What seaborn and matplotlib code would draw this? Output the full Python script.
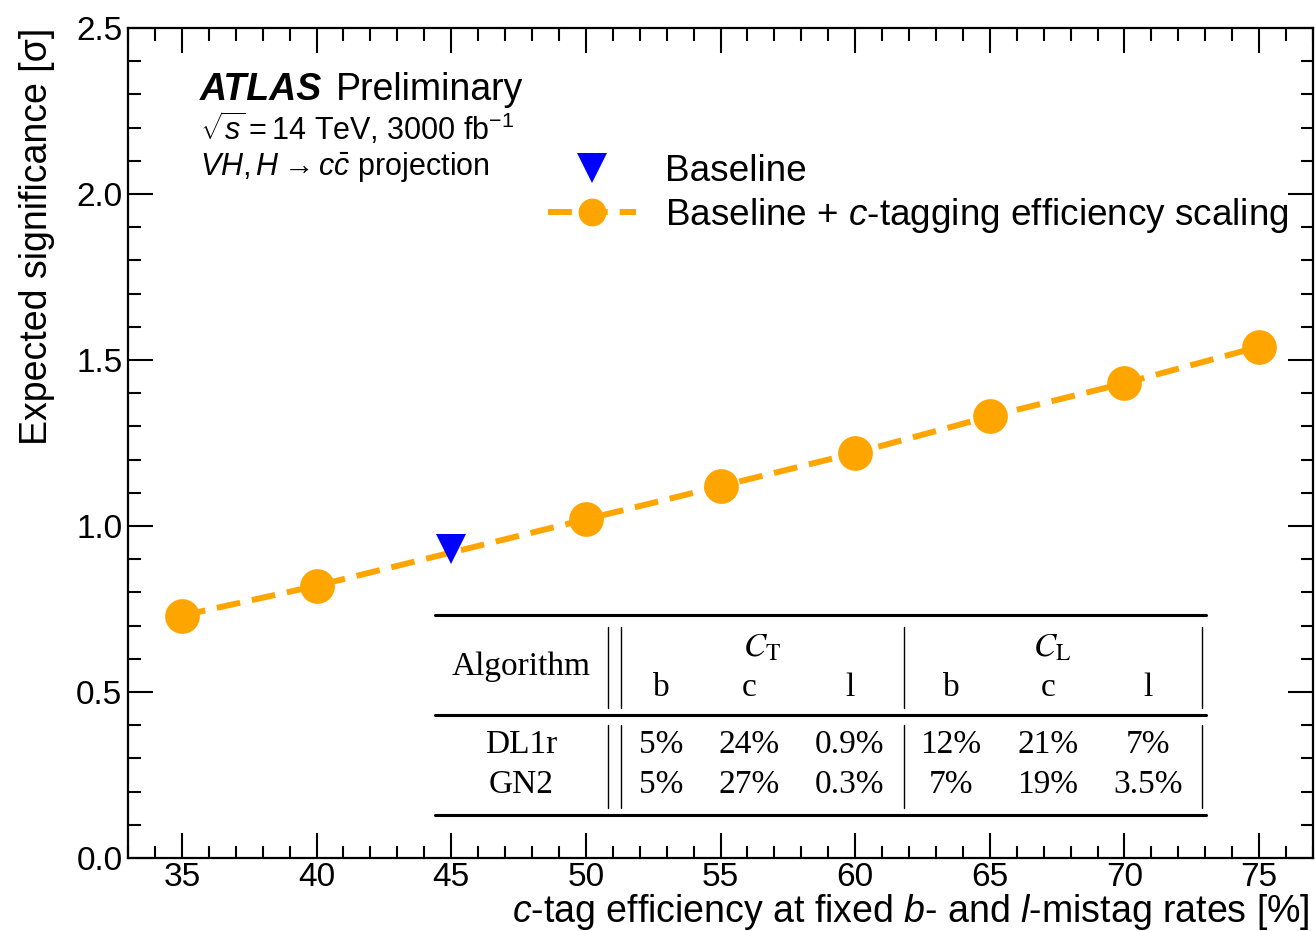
import matplotlib
matplotlib.use('Agg')
import matplotlib.pyplot as plt
import seaborn as sns
from matplotlib.ticker import MultipleLocator
from matplotlib.lines import Line2D

# c-tag efficiency scan
eff = [35, 40, 45, 50, 55, 60, 65, 70, 75]
sig = [0.73, 0.82, 0.92, 1.02, 1.12, 1.22, 1.33, 1.43, 1.54]
marked = [0, 1, 3, 4, 5, 6, 7, 8]

base_eff = [45]
base_sig = [0.93]

# working point table
algos = ['DL1r', 'GN2']
flavours = ['b', 'c', 'l', 'b', 'c', 'l']
table_vals = [['5%', '24%', '0.9%', '12%', '21%', '7%'],
              ['5%', '27%', '0.3%', '7%', '19%', '3.5%']]

sns.set_style('ticks')
plt.rcParams['font.family'] = ['Liberation Sans', 'DejaVu Sans']
plt.rcParams['mathtext.fontset'] = 'custom'
plt.rcParams['mathtext.rm'] = 'Liberation Sans'
plt.rcParams['mathtext.it'] = 'Liberation Sans:italic'
plt.rcParams['mathtext.bf'] = 'Liberation Sans:bold'
for k in ['text.color', 'axes.labelcolor', 'xtick.color', 'ytick.color', 'axes.edgecolor']:
    plt.rcParams[k] = 'black'


def fx(px):
    return (px - 128) / 1185


def fy(py):
    return (858 - py) / 830


fig = plt.figure(figsize=(13.15, 9.31), dpi=100)
ax = fig.add_axes([128/1315, 1 - 858/931, 1185/1315, 830/931])

dash = (0, (4.0, 2.0))
sns.lineplot(x=eff, y=sig, ax=ax, color='orange', linewidth=4.3,
             linestyle=dash, marker='o', markersize=25,
             markeredgewidth=0, markevery=marked, zorder=2)
sns.lineplot(x=base_eff, y=base_sig, ax=ax, color='blue', linestyle='none',
             marker='v', markersize=22, markeredgewidth=0, zorder=3)

ax.set_xlim(33, 77)
ax.set_ylim(0, 2.5)
ax.xaxis.set_major_locator(MultipleLocator(5))
ax.xaxis.set_minor_locator(MultipleLocator(1))
ax.yaxis.set_major_locator(MultipleLocator(0.5))
ax.yaxis.set_minor_locator(MultipleLocator(0.1))
ax.tick_params(which='both', direction='in', top=True, right=True, width=1.5,
               labelsize=24)
ax.tick_params(which='major', length=18)
ax.tick_params(which='minor', length=9)
ax.tick_params(axis='x', pad=3)
ax.tick_params(axis='y', pad=4)
for s in ax.spines.values():
    s.set_linewidth(1.6)

ax.set_xlabel('$c$-tag efficiency at fixed $b$- and $l$-mistag rates [%]',
              fontsize=27, loc='right')
ax.xaxis.label.set_va('center')
ax.xaxis.set_label_coords(fx(1310), fy(912))
ax.set_ylabel('Expected significance [σ]', fontsize=27, loc='top')
ax.yaxis.label.set_va('center')
ax.yaxis.set_label_coords(fx(37), 1.0)

ax.text(fx(200), 0.925, 'ATLAS', transform=ax.transAxes, fontsize=27,
        weight='bold', style='italic', va='center')
ax.text(fx(336), 0.925, 'Preliminary', transform=ax.transAxes,
        fontsize=27, va='center')
ax.text(fx(200), 0.879, r'$\sqrt{s}=$14 TeV, 3000 fb$^{-1}$', transform=ax.transAxes,
        fontsize=22, va='center')
ax.text(fx(200), 0.832, r'$VH, H\rightarrow c\bar{c}$ projection', transform=ax.transAxes,
        fontsize=22, va='center')

handles = [Line2D([], [], color='blue', marker='v', linestyle='none', markersize=22,
                  markeredgewidth=0),
           Line2D([], [], color='orange', marker='o', linewidth=4.3, markersize=20,
                  linestyle=dash, markeredgewidth=0)]
ax.legend(handles, ['Baseline', 'Baseline + $c$-tagging efficiency scaling'],
          loc='upper left', bbox_to_anchor=(fx(548), fy(154)),
          frameon=False, fontsize=26.6, handlelength=2.38, handletextpad=0.8,
          labelspacing=0.2, borderaxespad=0, borderpad=0)

# working point table
tkw = dict(transform=ax.transAxes, family='Liberation Serif', fontsize=24,
           ha='center', va='center')
for y in [615, 715, 815]:
    ax.plot([fx(435), fx(1206)], [fy(y), fy(y)], color='black', lw=2.2,
            transform=ax.transAxes, clip_on=False)
for x in [608, 621, 904, 1202]:
    for y0, y1 in [(627, 708), (725, 808)]:
        ax.plot([fx(x), fx(x)], [fy(y0), fy(y1)], color='black', lw=1,
                transform=ax.transAxes, clip_on=False)

ax.text(fx(521), fy(667), 'Algorithm', **tkw)
ax.text(fx(762), fy(648), r'$C_\mathrm{T}$', math_fontfamily='stix', **tkw)
ax.text(fx(1052), fy(648), r'$C_\mathrm{L}$', math_fontfamily='stix', **tkw)
cols = [661, 749, 850, 951, 1048, 1148]
for c, f in zip(cols, flavours):
    ax.text(fx(c), fy(688), f, **tkw)
for r, (a, row) in enumerate(zip(algos, table_vals)):
    yy = 745 + 40 * r
    ax.text(fx(521), fy(yy), a, **tkw)
    for c, v in zip(cols, row):
        ax.text(fx(c), fy(yy), v, **tkw)

fig.savefig('out.png', dpi=100)
